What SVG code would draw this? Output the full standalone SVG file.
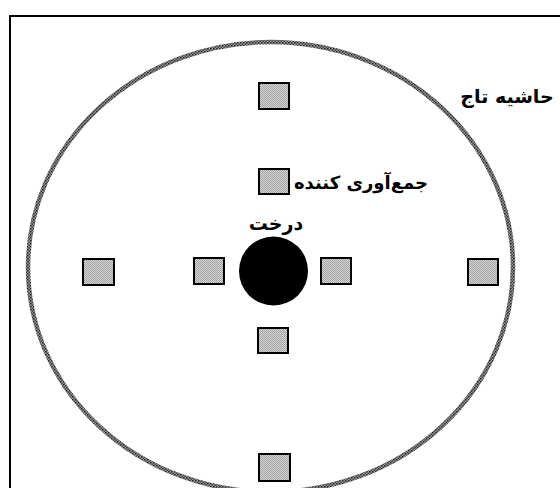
<svg xmlns="http://www.w3.org/2000/svg" width="560" height="488" viewBox="0 0 560 488">
<defs>
<pattern id="rim" width="3" height="3" patternUnits="userSpaceOnUse">
<rect width="3" height="3" fill="#9a9a9a"/>
<rect width="1.5" height="1.5" fill="#222"/>
<rect x="1.5" y="1.5" width="1.5" height="1.5" fill="#444"/>
</pattern>
<pattern id="dots" width="2" height="2" patternUnits="userSpaceOnUse">
<rect width="2" height="2" fill="#d4d4d4"/>
<rect width="1" height="1" fill="#a0a0a0"/>
<rect x="1" y="1" width="1" height="1" fill="#a8a8a8"/>
</pattern>
</defs>
<style>
.sq{fill:url(#dots);stroke:#000;stroke-width:2}
.lbl{font-family:"DejaVu Sans",sans-serif;font-weight:bold;font-size:19px;fill:#000;text-anchor:middle}
</style>
<rect width="560" height="488" fill="#fff"/>
<rect id="frame" x="10" y="16" width="600" height="600" fill="none" stroke="#000" stroke-width="2"/>
<g id="crown">
<ellipse cx="270.5" cy="267" rx="242.5" ry="225" fill="none" stroke="url(#rim)" stroke-width="4.5"/>
<text class="lbl" x="507" y="103" direction="rtl">حاشیه تاج</text>
</g>
<g id="tree">
<circle cx="273.5" cy="271" r="34.5" fill="#000"/>
<text class="lbl" x="276" y="230" direction="rtl">درخت</text>
</g>
<g id="collector">
<rect class="sq" x="259" y="169" width="30" height="25"/>
<text class="lbl" x="361" y="189" direction="rtl" style="font-size:18px">جمع‌آوری کننده</text>
</g>
<g id="trap-top"><rect class="sq" x="259" y="83" width="30" height="26"/></g>
<g id="trap-left-near"><rect class="sq" x="194" y="258" width="30" height="26"/></g>
<g id="trap-right-near"><rect class="sq" x="321" y="258" width="30" height="26"/></g>
<g id="trap-below"><rect class="sq" x="258" y="328" width="30" height="25"/></g>
<g id="trap-bottom"><rect class="sq" x="259" y="454" width="31" height="27"/></g>
<g id="trap-far-left"><rect class="sq" x="83" y="259" width="31" height="26"/></g>
<g id="trap-far-right"><rect class="sq" x="468" y="259" width="30" height="26"/></g>
</svg>
